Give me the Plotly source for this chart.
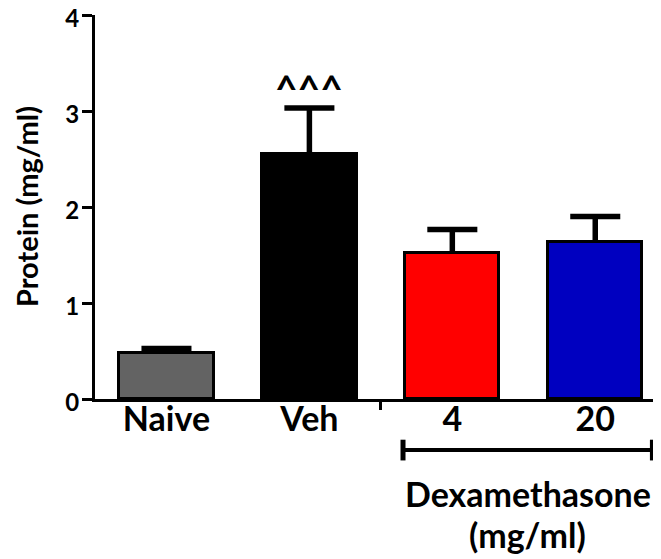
import plotly.graph_objects as go

categories = ["Naive", "Veh", "4", "20"]
values = [0.48, 2.55, 1.52, 1.64]
errors = [0.045, 0.48, 0.245, 0.26]
colors = ["#636363", "#000000", "#FF0000", "#0000C0"]
y_ticks = [0, 1, 2, 3, 4]
sig_label = "^^^"
group_label_1 = "Dexamethasone"
group_label_2 = "(mg/ml)"
y_title = "Protein (mg/ml)"

xpos = list(range(len(categories)))
FONT = "Lato"
CAP = 0.175  # half-width of error caps in category units

# error bars (upper only): stems and caps built from the data
ex, ey = [], []
for x, v, e in zip(xpos, values, errors):
    ex += [x, x, None, x - CAP, x + CAP, None]
    ey += [v, v + e, None, v + e, v + e, None]

fig = go.Figure()
fig.add_trace(go.Bar(
    x=xpos, y=values, width=0.66,
    marker=dict(color=colors, line=dict(color="black", width=3)),
    showlegend=False, hoverinfo="skip",
))
fig.add_trace(go.Scatter(x=ex, y=ey, mode="lines",
                         line=dict(color="black", width=5.5),
                         showlegend=False, hoverinfo="skip", cliponaxis=False))
# invisible trace on overlay axis to draw the separator tick
fig.add_trace(go.Scatter(x=[1.5], y=[0], xaxis="x2", mode="markers",
                         marker=dict(opacity=0), showlegend=False,
                         hoverinfo="skip"))

# the page body adds an 8px offset; margins compensate so the plot area
# sits at x 95..661, y 15..399 in the window
fig.update_layout(
    width=661, height=559,
    margin=dict(l=87, r=8, t=7, b=168),
    plot_bgcolor="white", paper_bgcolor="white",
    font=dict(family=FONT, color="black", weight="bold"),
    bargap=0,
    xaxis=dict(range=[-0.5, 3.46], tickvals=xpos, ticktext=categories,
               showline=True, linecolor="black", linewidth=3,
               ticks="", ticklabelstandoff=-12, automargin=False,
               ticklabeloverflow="allow",
               tickfont=dict(size=34, family=FONT, weight="bold"),
               showgrid=False, zeroline=False, fixedrange=True),
    xaxis2=dict(range=[-0.5, 3.46], overlaying="x", side="bottom",
                tickvals=[1.5], ticks="outside", ticklen=10, tickwidth=3,
                tickcolor="black", showticklabels=False, showline=False,
                showgrid=False, zeroline=False, automargin=False),
    yaxis=dict(range=[0, 4], tickvals=y_ticks, showline=True,
               linecolor="black", linewidth=3, ticks="outside", ticklen=10,
               tickwidth=3, tickcolor="black", showgrid=False, zeroline=False,
               automargin=False, ticklabeloverflow="allow",
               ticklabelstandoff=-2, ticklabelshift=4,
               tickfont=dict(size=24, family=FONT, weight="bold")),
)

# y-axis title
fig.add_annotation(x=-0.1219, xref="paper", y=0.5, yref="paper",
                   text=y_title, textangle=-90, showarrow=False,
                   xanchor="center", yanchor="middle",
                   font=dict(size=29, family=FONT, weight="bold"))

# significance marker above Veh error bar
fig.add_annotation(x=xpos[1], y=values[1] + errors[1], text=sig_label,
                   showarrow=False, yanchor="bottom", yshift=-5,
                   font=dict(size=39, family=FONT, weight="bold"))

# bracket under dexamethasone groups
bx0 = xpos[2] - 0.345
bx1 = xpos[3] + 0.40
by = -0.133
fig.add_shape(type="line", xref="x", yref="paper", x0=bx0, x1=bx1, y0=by, y1=by,
              line=dict(color="black", width=4))
for bx in (bx0, bx1):
    fig.add_shape(type="line", xref="x", yref="paper", x0=bx, x1=bx,
                  y0=by - 0.027, y1=by + 0.027, line=dict(color="black", width=5))
mid = (bx0 + bx1) / 2
fig.add_annotation(x=mid, xref="x", y=-0.247, yref="paper",
                   text=group_label_1, showarrow=False, yanchor="middle",
                   font=dict(size=34, family=FONT, weight="bold"))
fig.add_annotation(x=mid, xref="x", y=-0.352, yref="paper",
                   text=group_label_2, showarrow=False, yanchor="middle",
                   font=dict(size=34, family=FONT, weight="bold"))

fig.write_html("out.html")
